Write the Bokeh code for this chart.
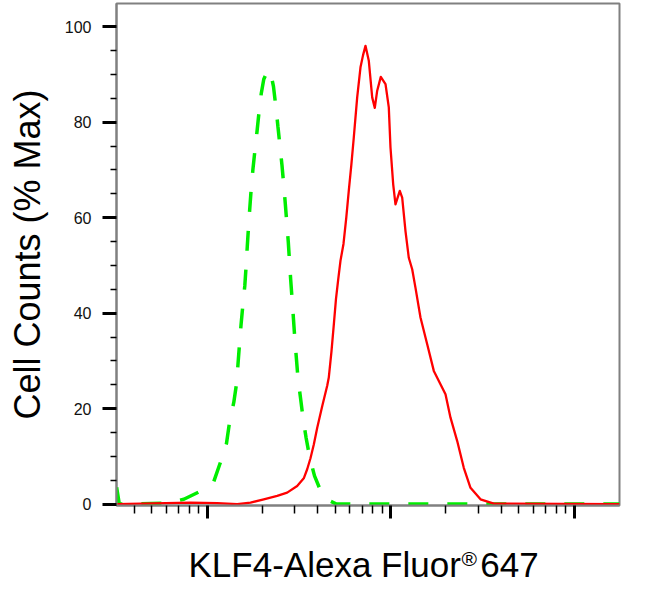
from bokeh.plotting import figure
from bokeh.models import FixedTicker, Label, Range1d
from bokeh.embed import file_html
from bokeh.resources import INLINE

# Isotype control (green dashed) – intensity vs % of max
isotype_x = [32.1, 33.2, 60.5, 74.6, 91.9, 108.6, 119.2, 127.4, 132.3, 139.6,
             144.4, 147.2, 150.0, 152.8, 156.3, 160.3, 163.1, 165.4, 167.9, 170.7,
             173.7, 177.4, 181.9, 186.8, 191.5, 197.1, 203.4, 214.4, 222.7, 229.7,
             237.1, 243.1, 249.3, 255.6, 261.1, 266.4, 271.4, 276.6, 280.8, 285.1,
             290.1, 295.6, 300.9, 306.6, 312.8, 322.4, 333.5, 345.9, 362.3, 384.5,
             423.4, 469.8, 506.6, 17655]
isotype_y = [3.5, 0.0, 0.2, 1.0, 2.7, 4.7, 9.2, 12.7, 17.1, 21.3,
             25.1, 29.3, 33.5, 37.4, 41.5, 45.7, 50.0, 54.0, 58.0, 62.0,
             66.0, 70.0, 74.0, 78.0, 82.0, 86.0, 89.0, 91.0, 90.0, 87.5,
             83.0, 79.0, 75.0, 71.0, 67.0, 63.0, 59.0, 55.0, 51.0, 47.0,
             43.0, 38.5, 34.2, 30.3, 26.1, 22.3, 17.8, 13.9, 9.7, 5.9,
             2.0, 0.6, 0.0, 0.0]

# KLF4 stained sample (red solid)
klf4_x = [32.05, 81.1, 113.4, 145.7, 172.2, 203.4, 240.7, 272.8, 309.3, 336.0,
          350.7, 365.5, 381.1, 397.8, 423.4, 450.8, 459.9, 475.7, 490.9, 503.4,
          517.5, 532.7, 553.0, 572.8, 591.0, 610.1, 629.4, 642.9, 656.8, 684.6,
          706.5, 728.9, 759.7, 792.9, 819.2, 844.2, 883.3, 936.9, 976.5, 997.5,
          1031.9, 1062.0, 1120.9, 1155.2, 1204.0, 1255.0, 1309.7, 1365.1, 1453.4, 1581.1,
          1717.8, 1989.1, 2118.2, 2304.1, 2502.3, 2722.2, 3086.2, 3647.0, 17655]
klf4_y = [0.0, 0.3, 0.2, 0.0, 0.3, 1.0, 1.7, 2.4, 3.8, 5.4,
          7.3, 9.6, 12.5, 16.0, 20.5, 24.8, 26.5, 32.0, 38.0, 43.0,
          47.0, 51.0, 54.5, 60.0, 65.6, 71.0, 76.8, 81.0, 85.2, 91.5,
          94.0, 96.0, 92.9, 85.2, 83.0, 86.6, 89.5, 88.0, 83.1, 74.7,
          67.0, 62.8, 65.6, 64.2, 57.2, 51.6, 49.2, 45.3, 39.1, 33.5,
          27.9, 23.0, 18.1, 13.2, 7.6, 3.4, 1.0, 0.1, 0.0]

y_ticks = [0, 20, 40, 60, 80, 100]
y_minor_ticks = [5, 10, 15, 25, 30, 35, 45, 50, 55, 65, 70, 75, 85, 90, 95]
x_major_ticks = [100, 1000, 10000]
x_minor_ticks = [40, 50, 60, 70, 80, 90,
                 200, 300, 400, 500, 600, 700, 800, 900,
                 2000, 3000, 4000, 5000, 6000, 7000, 8000, 9000]

y_title = "Cell Counts (% Max)"
# the registered mark is drawn separately as a superscript in the gap
x_title = "KLF4-Alexa Fluor\u00a0\u00a0647"
x_title_mark = "\u00ae"

p = figure(width=650, height=590, x_axis_type="log",
           x_range=Range1d(32.05, 17655), y_range=Range1d(-0.3, 104.87),
           output_backend="svg", toolbar_location=None,
           min_border_left=116, min_border_right=31,
           min_border_top=3, min_border_bottom=85)

p.grid.visible = False
p.background_fill_color = "white"
p.border_fill_color = "white"
p.outline_line_color = "#808080"
p.outline_line_width = 2

# x axis
xa = p.xaxis[0]
xa.ticker = FixedTicker(ticks=x_major_ticks, minor_ticks=x_minor_ticks)
xa.major_label_text_color = None
xa.axis_line_color = "#808080"
xa.axis_line_width = 2
xa.major_tick_line_color = "black"
xa.major_tick_line_width = 3
xa.major_tick_out = 13
xa.major_tick_in = 0
xa.minor_tick_line_color = "black"
xa.minor_tick_line_width = 1.5
xa.minor_tick_out = 8
xa.minor_tick_in = 0

# y axis
ya = p.yaxis[0]
ya.ticker = FixedTicker(ticks=y_ticks, minor_ticks=y_minor_ticks)
ya.axis_line_color = "#808080"
ya.axis_line_width = 2
ya.major_tick_line_color = "black"
ya.major_tick_line_width = 3
ya.major_tick_out = 14
ya.major_tick_in = 0
ya.minor_tick_line_color = "black"
ya.minor_tick_line_width = 1.5
ya.minor_tick_out = 6
ya.minor_tick_in = 0
ya.major_label_text_font = "Liberation Sans"
ya.major_label_text_font_size = "16px"
ya.major_label_text_color = "#111111"
ya.major_label_standoff = 11
ya.axis_label = y_title
ya.axis_label_text_font = "Liberation Sans"
ya.axis_label_text_font_size = "36px"
ya.axis_label_text_font_style = "normal"
ya.axis_label_text_color = "black"
ya.axis_label_standoff = 14

# curves
p.line(isotype_x, isotype_y, line_color="#00ee00", line_width=3.5, line_dash="20 19")
p.line(klf4_x, klf4_y, line_color="#ff0000", line_width=2.3, line_join="round")

# x-axis title
p.add_layout(Label(x=72, y=-7, x_units="screen", y_units="screen", text=x_title,
                   text_align="left", text_baseline="alphabetic", text_font_size="35px",
                   text_font="Liberation Sans", text_color="black"), "below")
p.add_layout(Label(x=345, y=22, x_units="screen", y_units="screen", text=x_title_mark,
                   text_align="left", text_baseline="alphabetic", text_font_size="21px",
                   text_font="Liberation Sans", text_color="black"), "below")

open("out.html", "w").write(file_html(p, INLINE))
